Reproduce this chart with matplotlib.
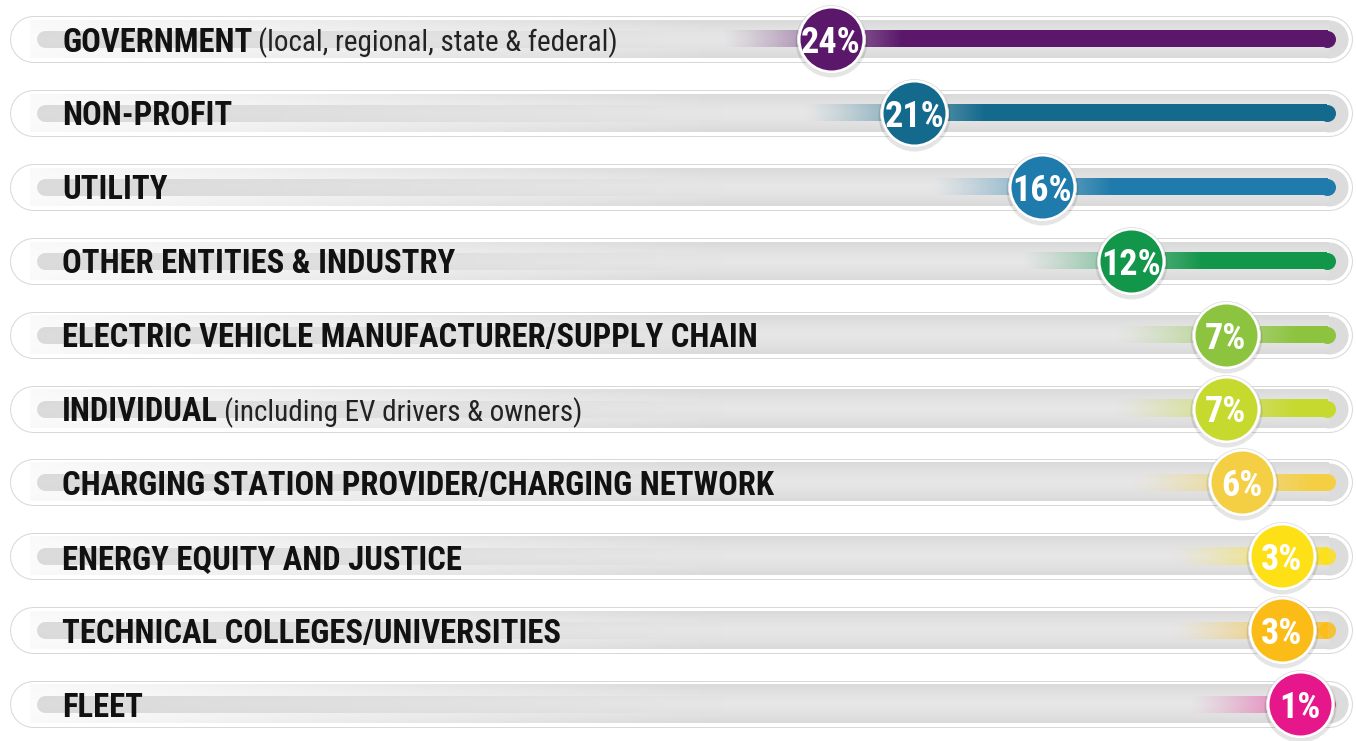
import numpy as np
import matplotlib
matplotlib.use("Agg")
import matplotlib.pyplot as plt
import matplotlib.colors as mcolors
from matplotlib.transforms import ScaledTranslation

# ---------------- data ----------------
categories = ["GOVERNMENT", "NON-PROFIT", "UTILITY", "OTHER ENTITIES & INDUSTRY",
              "ELECTRIC VEHICLE MANUFACTURER/SUPPLY CHAIN", "INDIVIDUAL",
              "CHARGING STATION PROVIDER/CHARGING NETWORK", "ENERGY EQUITY AND JUSTICE",
              "TECHNICAL COLLEGES/UNIVERSITIES", "FLEET"]
category_notes = ["(local, regional, state & federal)", "", "", "", "",
                  "(including EV drivers & owners)", "", "", "", ""]
values = [24, 21, 16, 12, 7, 7, 6, 3, 3, 1]
value_labels = ["24%", "21%", "16%", "12%", "7%", "7%", "6%", "3%", "3%", "1%"]
colors = ["#5b186b", "#146a8c", "#1e7bab", "#12964a", "#8cc43f",
          "#c6d92e", "#f4cf43", "#fde016", "#fbbc17", "#e5178a"]

# ---------------- layout ----------------
W, H, DPI = 1356, 741, 100
PX = 72.0 / DPI            # points per pixel
n = len(values)
row_px = 73.9
top_px = 39
y_top = -top_px / row_px
y_bot = (n - 1) + (H - (top_px + (n - 1) * row_px)) / row_px

LABEL_FONT = ["Roboto Condensed", "Barlow Condensed", "DejaVu Sans"]

fig = plt.figure(figsize=(W / DPI, H / DPI), dpi=DPI)
fig.patch.set_facecolor("white")

bg = fig.add_axes([0, 0, 1, 1])
bg.set_xlim(0, W)
bg.set_ylim(y_bot, y_top)
bg.axis("off")

ax = fig.add_axes([0, 0, 1, 1], sharey=bg)
ax.patch.set_alpha(0)
P = 1.45
fwd = lambda x: np.sign(x) * np.abs(x) ** P
inv = lambda y: np.sign(y) * np.abs(y) ** (1.0 / P)
ax.set_xscale("function", functions=(fwd, inv))
ax.set_xlim(48.8, -3.49)
ax.set_ylim(y_bot, y_top)
ax.axis("off")

hpx = 1.0 / row_px   # one pixel in row units

def hline(y, x0, x1, wpx, color, z, cap="round", alpha=1.0):
    bg.plot([x0, x1], [y, y], color=color, lw=wpx * PX, solid_capstyle=cap,
            zorder=z, alpha=alpha)

# track gradient image (grey, fading in from left)
TX0, TX1 = 30, 1329
nx, ny = 600, 21
xs = np.linspace(TX0, TX1, nx)
alpha_x = np.clip(0.15 + 0.85 * (xs - TX0) / (720 - TX0), 0.15, 1.0)
yy = np.linspace(-1, 1, ny)
gray_y = 0.905 - 0.05 * np.abs(yy) ** 1.5
track = np.zeros((ny, nx, 4))
track[..., 0] = gray_y[:, None]
track[..., 1] = gray_y[:, None]
track[..., 2] = gray_y[:, None]
track[..., 3] = alpha_x[None, :]

end_px = ax.transData.transform((0, 0))[0]
circ_off = ScaledTranslation(-22.0 / DPI, 0, fig.dpi_scale_trans)
shadow_off = ScaledTranslation(-22.0 / DPI, -2.0 / DPI, fig.dpi_scale_trans)

for i, (cat, note, v, lab, col) in enumerate(zip(categories, category_notes, values,
                                                 value_labels, colors)):
    y = i
    # pill outline + white fill
    hline(y, 33, 1329, 47, "#d8d8d8", 1)
    hline(y, 33, 1329, 45, "white", 1.1)
    # thin grey left bar
    hline(y, 45, 760, 17, "#d9d9d9", 1.2)
    # right rounded cap of track
    bg.plot([1329], [y], "o", ms=38 * PX, color="#dcdcdc", mew=0, zorder=1.3)
    bg.imshow(track, extent=(TX0, TX1, y + 19 * hpx, y - 19 * hpx), aspect="auto",
              interpolation="bilinear", zorder=1.4)

    # coloured bar: position through the axis scale
    vx = ax.transData.transform((v, y))[0]
    c = vx - 22.0
    g0 = c - 110.0
    g1 = end_px
    ncol = max(int(g1 - g0), 2)
    gx = np.linspace(g0, g1, ncol)
    a = np.clip((gx - g0) / 180.0, 0, 1) ** 1.2
    rgb = mcolors.to_rgb(col)
    bar = np.zeros((1, ncol, 4))
    bar[0, :, 0], bar[0, :, 1], bar[0, :, 2] = rgb
    bar[0, :, 3] = a
    bg.plot([g1], [y], "o", ms=17 * PX, color=col, mew=0, zorder=2,
            alpha=float(a[-1]))
    bg.imshow(bar, extent=(g0, g1, y + 8.5 * hpx, y - 8.5 * hpx), aspect="auto",
              interpolation="nearest", zorder=2.1)

    # circle with value
    ax.plot([v], [y], "o", ms=72 * PX, color="black", alpha=0.10, mew=0,
            transform=ax.transData + shadow_off, zorder=3)
    ax.plot([v], [y], "o", ms=68 * PX, color="white", mec="#e2e2e2", mew=0.6,
            transform=ax.transData + circ_off, zorder=3.1)
    ax.plot([v], [y], "o", ms=62 * PX, color=col, mew=0,
            transform=ax.transData + circ_off, zorder=3.2)
    ax.text(v, y, lab, transform=ax.transData + circ_off, ha="center",
            va="center_baseline", color="white", fontsize=26, fontweight="bold",
            family=LABEL_FONT, zorder=4)

    # category label
    t = bg.text(62, y, cat, ha="left", va="center_baseline", fontsize=23.5,
                fontweight="bold", color="#111111", family=LABEL_FONT, zorder=5)
    if note:
        bg.annotate(note, xy=(1, 0), xycoords=t, xytext=(4, 0),
                    textcoords="offset points", ha="left", va="bottom",
                    fontsize=21, color="#222222", family=LABEL_FONT, zorder=5)

bg.set_xlim(0, W)
bg.set_ylim(y_bot, y_top)

fig.savefig("out.png", dpi=DPI, facecolor="white")
